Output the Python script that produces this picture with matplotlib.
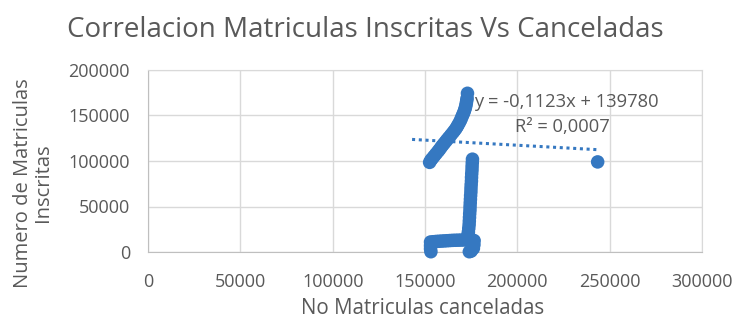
import numpy as np
import matplotlib
matplotlib.use("Agg")
import matplotlib.pyplot as plt

# Estimated points (No canceladas, No inscritas)
upper_x = [152500, 153200, 154000, 155000, 156000, 157000, 157800, 158600, 159400, 160300,
           161200, 162100, 163000, 164000, 165000, 165900, 166700, 167400, 168000, 168700,
           169300, 169800, 170300, 170800, 171200, 171600, 171900, 172200, 172400, 172600,
           172800, 173000]
upper_y = [98500, 101000, 103000, 105500, 108000, 110500, 112500, 114800, 117000, 119200,
           121500, 123800, 126000, 128500, 131000, 133300, 135500, 137800, 140000, 142500,
           145000, 147500, 150000, 152200, 154400, 156700, 159000, 161500, 164000, 166500,
           169000, 174400]

vert_x = [175700, 175600, 175500, 175450, 175300, 175200, 175150, 175000, 174900, 174850,
          174700, 174600, 174500, 174400, 174350, 174200, 174100, 174000, 173900, 173700,
          173500, 173300, 173200, 173100]
vert_y = [102000, 98000, 94000, 90000, 86000, 82000, 78000, 74000, 70000, 66000,
          62000, 58000, 54000, 50000, 46000, 42000, 38000, 34000, 30000, 26000,
          22000, 19000, 16000, 14000]

base_x = [153000, 154500, 156000, 157500, 159000, 160500, 162000, 163500, 165000, 166500,
          168000, 169500, 171000, 172500, 174000, 175500, 176600, 176500, 176200, 175000,
          174000, 153000, 153000, 153200]
base_y = [11000, 11300, 11600, 11800, 12000, 12200, 12400, 12600, 12800, 12900,
          13000, 13100, 13200, 13300, 13300, 13300, 12500, 8000, 4000, 1000,
          300, 7000, 3500, 300]

outlier_x = [243500]
outlier_y = [99000]

# linear trendline as shown on the chart
slope = -0.1123
intercept = 139780
trend_x = [143000, 243000]

x_ticks = [0, 50000, 100000, 150000, 200000, 250000, 300000]
y_ticks = [0, 50000, 100000, 150000, 200000]

title = "Correlacion Matriculas Inscritas Vs Canceladas"
x_label = "No Matriculas canceladas"
y_label = "Numero de Matriculas\nInscritas"
eq_text = "y = -0,1123x + 139780"
r2_text = "R² = 0,0007"

text_gray = "#595959"
blue = "#3578c1"
plt.rcParams['font.family'] = ['Open Sans', 'DejaVu Sans']

fig = plt.figure(figsize=(7.36, 3.21), dpi=100)
ax = fig.add_axes([148 / 736, 1 - 252 / 321, 554 / 736, 182 / 321])

xs = upper_x + vert_x + base_x + outlier_x
ys = upper_y + vert_y + base_y + outlier_y
ax.scatter(xs, ys, s=95, color=blue, edgecolors='none', zorder=3, clip_on=False)

tx = np.array(trend_x)
ax.plot(tx, slope * tx + intercept, linestyle=(0, (1, 1.2)), color=blue, linewidth=2.2, zorder=2)

ax.set_xlim(0, 300000)
ax.set_ylim(0, 200000)
ax.set_xticks(x_ticks)
ax.set_yticks(y_ticks)
ax.tick_params(length=0, labelsize=13, colors=text_gray)
ax.tick_params(axis='x', pad=15)
ax.tick_params(axis='y', pad=13)
ax.grid(True, color='#d9d9d9', linewidth=1)
ax.set_axisbelow(True)
for side in ['top', 'right']:
    ax.spines[side].set_color('#d9d9d9')
for side in ['left', 'bottom']:
    ax.spines[side].set_color('#bfbfbf')

ax.text(0.588, 0.822, eq_text, transform=ax.transAxes, fontsize=13.2, color=text_gray,
        ha='left', va='center', zorder=4)
ax.text(0.663, 0.685, r2_text, transform=ax.transAxes, fontsize=13.2, color=text_gray,
        ha='left', va='center', zorder=4)

fig.text(0.497, 0.905, title, ha='center', va='center', fontsize=20, color=text_gray)
ax.set_xlabel(x_label, fontsize=14.8, color=text_gray)
ax.xaxis.set_label_coords(0.496, -0.255)
fig.text(33 / 736, 0.43, y_label, rotation=90, ha='center', va='center', fontsize=14.5,
         color=text_gray, linespacing=1.05, multialignment='center')

fig.savefig("out.png", dpi=100)
